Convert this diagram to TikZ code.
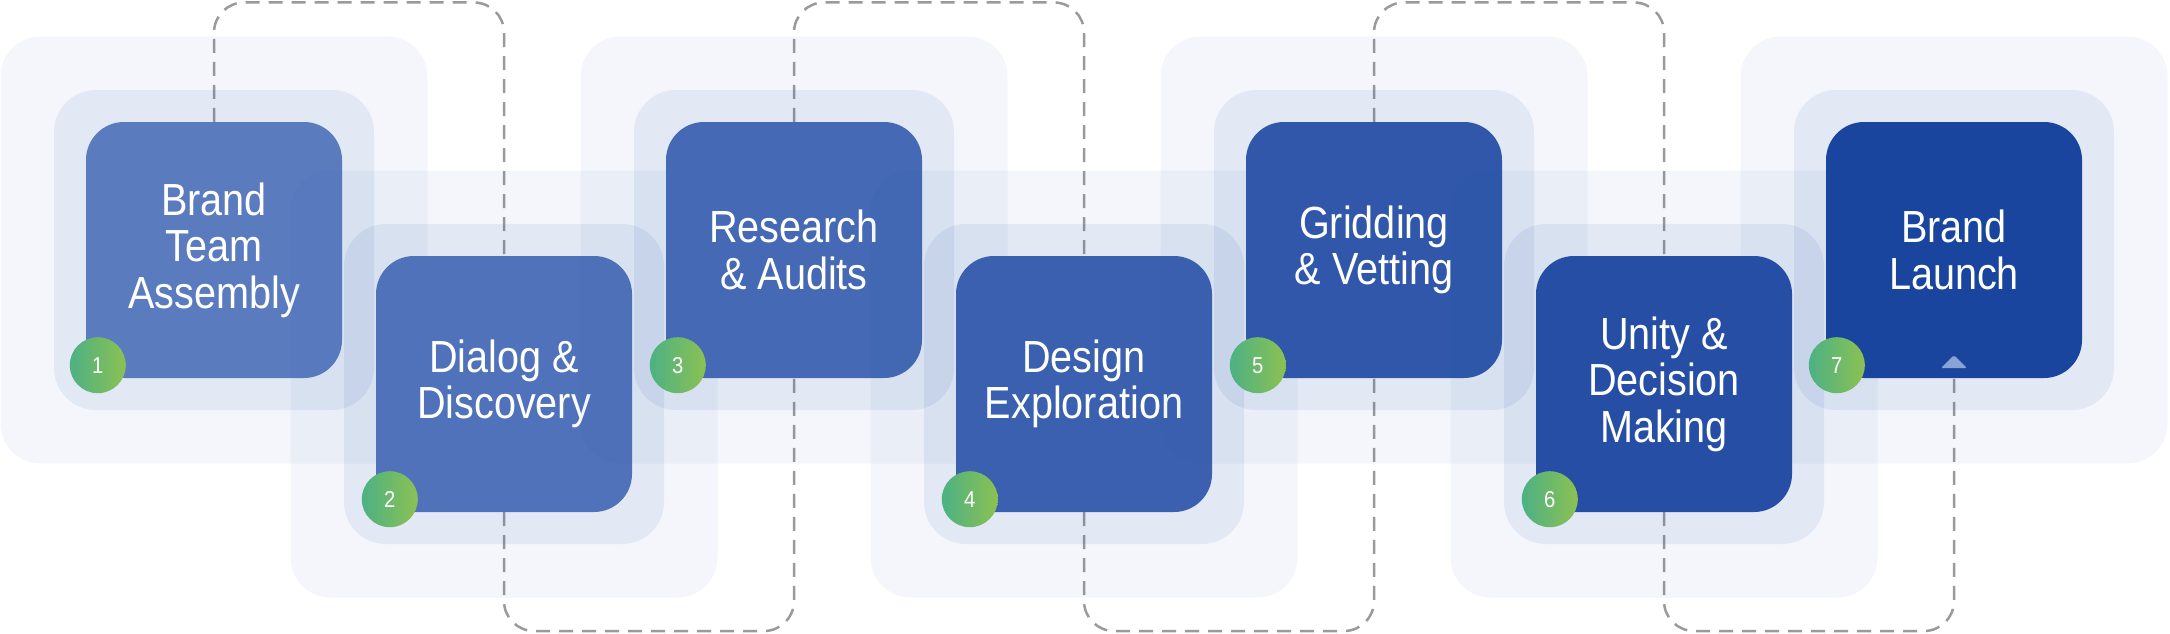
\documentclass[tikz,border=0pt]{standalone}
\usepackage{fontspec}
\setmainfont[FakeStretch=0.88]{Liberation Sans}
\usepackage{xcolor}
\usepackage{tikz}
\usetikzlibrary{positioning, calc, backgrounds}
\definecolor{haloblue}{HTML}{2F5DB0}
\definecolor{linkgray}{HTML}{9A9A9A}
\definecolor{tipblue}{HTML}{8AA3D6}
\definecolor{badgeteal}{HTML}{4CB184}
\definecolor{badgelime}{HTML}{8CC152}
\definecolor{stepA}{HTML}{5B7BBF}
\definecolor{stepB}{HTML}{5072BA}
\definecolor{stepC}{HTML}{4569B4}
\definecolor{stepD}{HTML}{3B60AF}
\definecolor{stepE}{HTML}{3057A9}
\definecolor{stepF}{HTML}{254EA4}
\definecolor{stepG}{HTML}{1A459E}

\begin{document}
\begin{tikzpicture}[x=1pt, y=-1pt,
    outerhalo/.style={fill=haloblue, fill opacity=0.053, rounded corners=40pt,
                      minimum size=427pt, inner sep=0pt},
    innerhalo/.style={fill=haloblue, fill opacity=0.09, rounded corners=42pt,
                      minimum size=320pt, inner sep=0pt},
    stepbox/.style={fill=#1, rounded corners=38pt, minimum size=256pt, inner sep=0pt,
                    text=white, align=center, font=\fontsize{45}{46.5}\selectfont},
    badge/.style={circle, left color=badgeteal, right color=badgelime, minimum size=56pt,
                  inner sep=0pt, text=white, font=\fontsize{23}{23}\selectfont},
    link/.style={draw=linkgray, line width=2.5pt, dash pattern=on 14pt off 9pt,
                 rounded corners=30pt}]
    \path[use as bounding box] (0,0) rectangle (2170,634);
    \coordinate (top) at (0,2.5);
    \coordinate (bot) at (0,631);

    % step 1
    \node[outerhalo] (o1) at (214,250) {};
    \node[innerhalo] (h1) at (o1) {};
    \node[stepbox=stepA] (s1) at (o1) {Brand\\Team\\Assembly};
    \node[badge] (n1) at ($(s1.south west)+(12,-13)$) {1};
    % step 2
    \node[outerhalo] (o2) at (504,384) {};
    \node[innerhalo] (h2) at (o2) {};
    \node[stepbox=stepB] (s2) at (o2) {Dialog \&\\Discovery};
    \node[badge] (n2) at ($(s2.south west)+(14,-13)$) {2};
    % step 3
    \node[outerhalo] (o3) at (794,250) {};
    \node[innerhalo] (h3) at (o3) {};
    \node[stepbox=stepC] (s3) at (o3) {Research\\\& Audits};
    \node[badge] (n3) at ($(s3.south west)+(12,-13)$) {3};
    % step 4
    \node[outerhalo] (o4) at (1084,384) {};
    \node[innerhalo] (h4) at (o4) {};
    \node[stepbox=stepD] (s4) at (o4) {Design\\Exploration};
    \node[badge] (n4) at ($(s4.south west)+(14,-13)$) {4};
    % step 5
    \node[outerhalo] (o5) at (1374,250) {};
    \node[innerhalo] (h5) at (o5) {};
    \node[stepbox=stepE] (s5) at (o5) {Gridding\\\& Vetting};
    \node[badge] (n5) at ($(s5.south west)+(12,-13)$) {5};
    % step 6
    \node[outerhalo] (o6) at (1664,384) {};
    \node[innerhalo] (h6) at (o6) {};
    \node[stepbox=stepF] (s6) at (o6) {Unity \&\\Decision\\Making};
    \node[badge] (n6) at ($(s6.south west)+(14,-13)$) {6};
    % step 7
    \node[outerhalo] (o7) at (1954,250) {};
    \node[innerhalo] (h7) at (o7) {};
    \node[stepbox=stepG] (s7) at (o7) {Brand\\Launch};
    \node[badge] (n7) at ($(s7.south west)+(11,-13)$) {7};
    \coordinate (tip) at ($(s7.south)+(0,-10)$);
    \fill[tipblue, rounded corners=1.5pt] ($(tip)+(-13,0)$) -- ($(tip)+(13,0)$) -- ($(tip)+(0,-13)$) -- cycle;

    % dashed path weaving behind the steps
    \begin{pgfonlayer}{background}
      \draw[link] (s1.north) -- (s1.north |- top) -- (s2.north |- top) -- (s2.north);
      \draw[link] (s2.south) -- (s2.south |- bot) -- (s3.south |- bot) -- (s3.south);
      \draw[link] (s3.north) -- (s3.north |- top) -- (s4.north |- top) -- (s4.north);
      \draw[link] (s4.south) -- (s4.south |- bot) -- (s5.south |- bot) -- (s5.south);
      \draw[link] (s5.north) -- (s5.north |- top) -- (s6.north |- top) -- (s6.north);
      \draw[link] (s6.south) -- (s6.south |- bot) -- (s7.south |- bot) -- (s7.south);
    \end{pgfonlayer}
\end{tikzpicture}
\end{document}
